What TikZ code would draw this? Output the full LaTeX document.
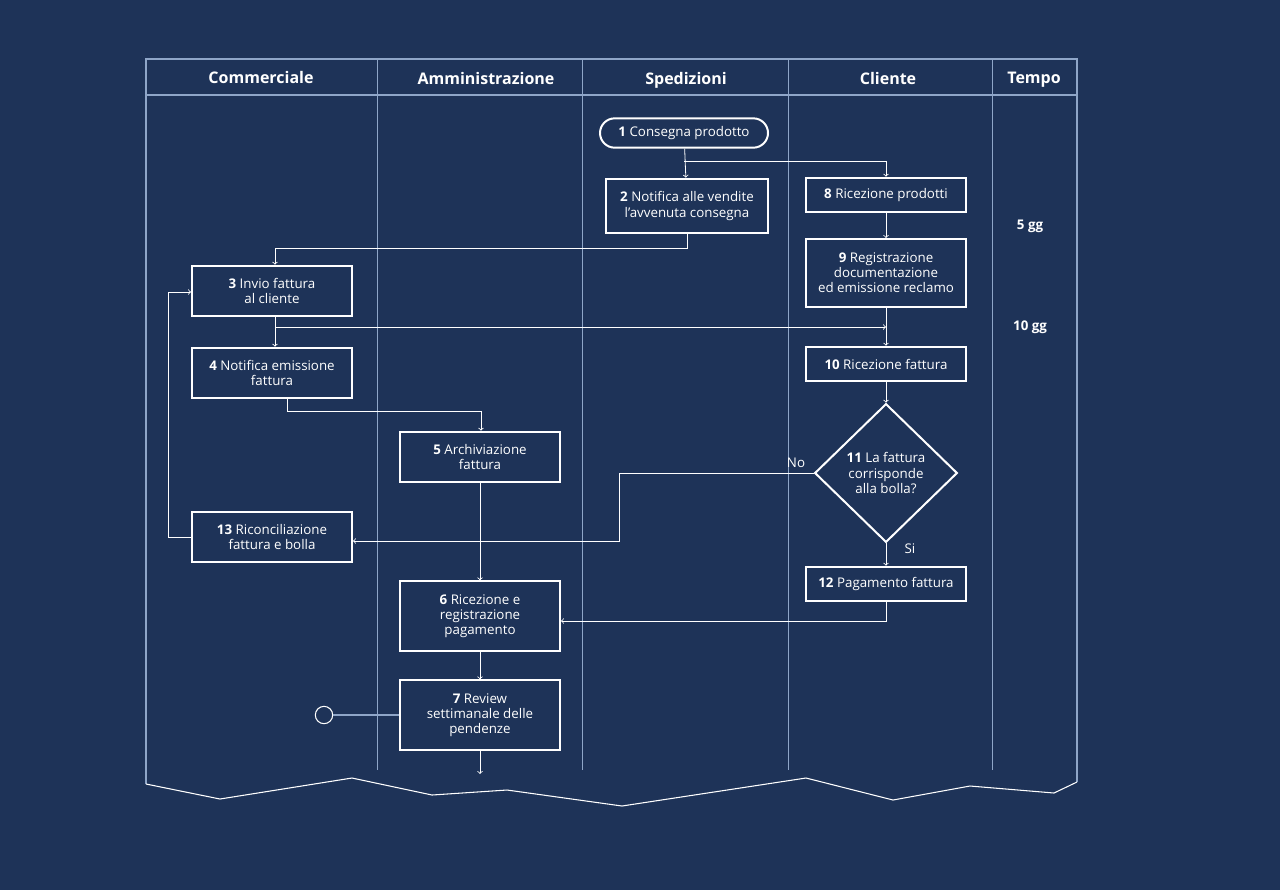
\documentclass[tikz,border=0pt]{standalone}
\usepackage{fontspec}
\setmainfont{Open Sans}
\usetikzlibrary{positioning,arrows,calc,shapes.geometric}
\definecolor{bg}{HTML}{1E3358}
\definecolor{lane}{HTML}{8FA6C8}
\tikzset{
    x=0.75pt,
    y=-0.75pt,
    block/.style = {
        draw=white,
        shape=rectangle,
        line width=1.5pt,
        text=white,
        align=center,
        inner sep=0pt,
        font=\fontsize{10}{11.3}\selectfont
    },
    start/.style = {
        block,
        rounded corners=11pt
    },
    decision/.style = {
        block,
        shape=diamond,
        aspect=1
    },
    head/.style = {
        text=white,
        text depth=0pt,
        font=\fontsize{12}{13}\selectfont\bfseries
    },
    flow/.style = {
        draw=white,
        line width=0.6pt
    },
    >=to,
}
\begin{document}
\begin{tikzpicture}
            \fill[bg] (0,0) rectangle (1280,890);
            \useasboundingbox (0,0) rectangle (1280,890);

            % frame and lanes
            \draw[lane, line width=1pt] (146,784) -- (146,59) -- (1077,59) -- (1077,782);
            \draw[lane, line width=1pt] (146,95) -- (1077,95);
            \draw[white, line width=0.8pt] (146,784) -- (220,799) -- (352,778) -- (432,795)
                -- (507,790) -- (622,806) -- (806,778) -- (893,800) -- (970,786)
                -- (1054,793) -- (1077,782);
            \foreach \x in {377,582,788,992}
                \draw[lane, line width=0.4pt] (\x,59) -- (\x,770);

            \node[head] (hcom) at (261,77) {Commerciale};
            \node[head] (hamm) at (486,78) {Amministrazione};
            \node[head] (hspe) at (686,78) {Spedizioni};
            \node[head] (hcli) at (888,78) {Cliente};
            \node[head] (htem) at (1034,78) {Tempo};

            \node[head, font=\fontsize{10}{11}\selectfont\bfseries] (t5) at (1030,225) {5 gg};
            \node[head, font=\fontsize{10}{11}\selectfont\bfseries] (t10) at (1030,326) {10 gg};

            % steps
            \node[start, minimum width=126pt, minimum height=22pt] (s1) at (684,133) {\textbf{1} Consegna prodotto};
            \node[block, minimum width=121pt, minimum height=41pt] (s2) at (687,206) {\textbf{2} Notifica alle vendite\\l'avvenuta consegna};
            \node[block, minimum width=120pt, minimum height=26pt] (s8) at (886,195) {\textbf{8} Ricezione prodotti};
            \node[block, minimum width=120pt, minimum height=51pt] (s9) at (886,273) {\textbf{9} Registrazione\\documentazione\\ed emissione reclamo};
            \node[block, minimum width=120pt, minimum height=38pt] (s3) at (272,291) {\textbf{3} Invio fattura\\al cliente};
            \node[block, minimum width=120pt, minimum height=38pt] (s4) at (272,373) {\textbf{4} Notifica emissione\\fattura};
            \node[block, minimum width=120pt, minimum height=26pt] (s10) at (886,364) {\textbf{10} Ricezione fattura};
            \node[block, minimum width=120pt, minimum height=38pt] (s5) at (480,457) {\textbf{5} Archiviazione\\fattura};
            \node[decision, minimum width=107pt, minimum height=104pt] (s11) at (886,473) {\textbf{11} La fattura\\corrisponde\\alla bolla?};
            \node[block, minimum width=120pt, minimum height=38pt] (s13) at (272,537) {\textbf{13} Riconciliazione\\fattura e bolla};
            \node[block, minimum width=120pt, minimum height=26pt] (s12) at (886,584) {\textbf{12} Pagamento fattura};
            \node[block, minimum width=120pt, minimum height=52pt] (s6) at (480,616) {\textbf{6} Ricezione e\\registrazione\\pagamento};
            \node[block, minimum width=120pt, minimum height=52pt] (s7) at (480,715) {\textbf{7} Review\\settimanale delle\\pendenze};
            \node[draw=white, circle, line width=0.8pt, minimum size=13pt, inner sep=0pt] (end) at (324,715) {};
            \coordinate (out) at (480,774);
            \coordinate (join) at (886,327);

            % connectors
            \path[flow, ->] (s1) -- (s2);
            \path[flow, ->] (684,161) -| (s8);
            \path[flow, ->] (s2.south) |- (275,248) -- (s3.north -| 275,0);
            \path[flow, ->] (s8) -- (s9);
            \path[flow, ->] (s9) -- (s10);
            \path[flow, ->] (s3.south -| 275,0) -- (s4.north -| 275,0);
            \path[flow, ->] (275,327) -- (join);
            \path[flow, ->] (s4.south -| 287,0) |- (481,411) -- (s5.north -| 481,0);
            \path[flow, ->] (s10) -- (s11);
            \path[flow, ->] (s11.west) -| (619,541) -- (s13.east |- 0,541);
            \path[flow, ->] (s13.west) -| (168,292) -- (s3.west |- 0,292);
            \path[flow, ->] (s11) -- (s12);
            \path[flow, ->] (s12.south) |- (s6.east |- 0,621);
            \path[flow, ->] (s5) -- (s6);
            \path[flow, ->] (s6) -- (s7);
            \path[flow, ->] (s7) -- (out);
            \path[draw=lane, line width=1.2pt] (end) -- (s7);

            \node[text=white, font=\fontsize{10}{11}\selectfont] (lno) at (796,463) {No};
            \node[text=white, font=\fontsize{10}{11}\selectfont] (lsi) at (910,549) {Si};
        \end{tikzpicture}
\end{document}
